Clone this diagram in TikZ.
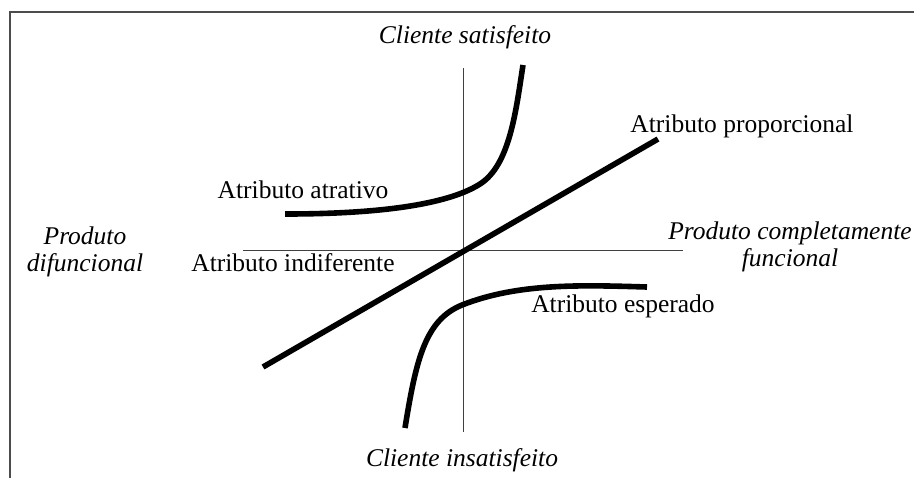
\documentclass[tikz,border=0pt]{standalone}
\usepackage{fontspec}
\setmainfont{Liberation Serif}
\usepackage{tikz}
\usetikzlibrary{calc}

\begin{document}
\begin{tikzpicture}[x=0.5pt,y=-0.5pt,
  lbl/.style={inner sep=0pt,font=\fontsize{12.75}{13.5}\selectfont},
  pole/.style={lbl,align=center,font=\fontsize{12.75}{13.5}\selectfont\itshape},
  axis/.style={draw=black!75,line width=0.5pt},
  curve/.style={line width=2.8pt}]
\useasboundingbox (0,0) rectangle (914,478);
\draw[black!70,line width=0.75pt] (10,478) -- (10,12) -- (914,12);
% axes
\coordinate (top) at (463,68);
\coordinate (bot) at (463,432);
\coordinate (lft) at (243,250);
\coordinate (rgt) at (683,250);
\draw[axis] (top) -- (bot);
\draw[axis] (lft) -- (rgt);
% curves
\draw[curve] (263,367) -- (658,139);
\draw[curve] (285,214) .. controls (400,214) and (455,200) .. (480,184)
  .. controls (510,165) and (516,110) .. (523,65);
\draw[curve] (405,428) .. controls (416,360) and (425,320) .. (462,305)
  .. controls (518,283) and (580,285) .. (647,287);
% labels
\node[pole] (sat) at (465,37) {Cliente satisfeito};
\node[pole] (insat) at (462,460) {Cliente insatisfeito};
\node[pole] (difun) at (85,252) {Produto\\difuncional};
\node[pole] (func) at (790,247) {Produto completamente\\funcional};
\node[lbl] (prop) at (742,126) {Atributo proporcional};
\node[lbl] (atr) at (303,190) {Atributo atrativo};
\node[lbl] (ind) at (293,263) {Atributo indiferente};
\node[lbl] (esp) at (623,306) {Atributo esperado};
\end{tikzpicture}
\end{document}
